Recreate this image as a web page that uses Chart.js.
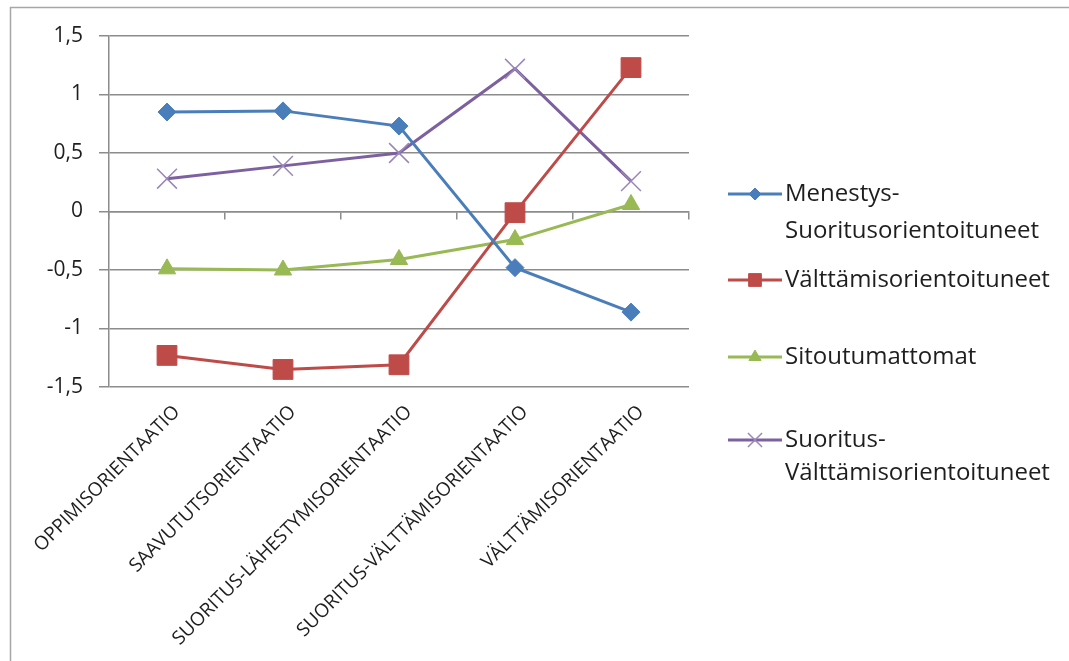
<!DOCTYPE html>
<html>
<head>
<meta charset="utf-8">
<title>Orientaatiot</title>
<script src="https://cdn.jsdelivr.net/npm/chart.js@4.4.1/dist/chart.umd.min.js"></script>
<style>
  html, body { margin: 0; padding: 0; background: #fff; }
  #wrap { width: 1069px; height: 661px; position: relative; }
</style>
</head>
<body>
<div id="wrap"><canvas id="chart"></canvas></div>
<script>
// --- data ---
const categories = [
  "OPPIMISORIENTAATIO",
  "SAAVUTUTSORIENTAATIO",
  "SUORITUS-LÄHESTYMISORIENTAATIO",
  "SUORITUS-VÄLTTÄMISORIENTAATIO",
  "VÄLTTÄMISORIENTAATIO"
];
const seriesNames = [
  "Menestys-Suoritusorientoituneet",
  "Välttämisorientoituneet",
  "Sitoutumattomat",
  "Suoritus-Välttämisorientoituneet"
];
const menestys = [0.85, 0.86, 0.73, -0.48, -0.86];
const valttamis = [-1.23, -1.35, -1.31, -0.01, 1.23];
const sitoutumattomat = [-0.49, -0.50, -0.41, -0.24, 0.06];
const suoritusValttamis = [0.28, 0.39, 0.50, 1.22, 0.26];
const yTicks = [-1.5, -1, -0.5, 0, 0.5, 1, 1.5];

const FONT = "'Open Sans', 'Liberation Sans', sans-serif";
const GRID = "#8c8c8c";
const TEXT = "#1e1e1e";

// --- styles per series ---
const seriesStyle = [
  { color: "#4a7ebb", point: "rectRot", radius: 9, legendRadius: 6 },
  { color: "#be4b48", point: "rect", radius: 14, legendRadius: 9 },
  { color: "#98b954", point: "triangle", radius: 10, legendRadius: 7 },
  { color: "#7d60a0", point: "crossRot", radius: 14, legendRadius: 10 }
];
const seriesValues = [menestys, valttamis, sitoutumattomat, suoritusValttamis];

const datasets = seriesNames.map((name, i) => {
  const s = seriesStyle[i];
  return {
    label: name,
    data: seriesValues[i],
    borderColor: s.color,
    backgroundColor: s.color,
    borderWidth: 3,
    pointStyle: s.point,
    pointRadius: s.radius,
    pointHoverRadius: s.radius,
    pointBorderColor: s.point === "crossRot" ? "#9b86b8" : s.color,
    pointBorderWidth: s.point === "crossRot" ? 1.5 : 1,
    tension: 0
  };
});

// frame lines + legend on the right (multi-line labels)
const sidePlugin = {
  id: "side",
  afterDraw(chart) {
    const ctx = chart.ctx;
    ctx.save();
    // image frame (top and left edge)
    ctx.strokeStyle = "#a6a6a6";
    ctx.lineWidth = 1.5;
    ctx.beginPath();
    ctx.moveTo(10.5, 661);
    ctx.lineTo(10.5, 7.5);
    ctx.lineTo(1069, 7.5);
    ctx.stroke();

    // legend
    const rowsY = [194, 280, 357, 440];
    const lineGap = [37, 0, 0, 33];
    ctx.font = "24px " + FONT;
    ctx.textBaseline = "middle";
    chart.data.datasets.forEach((ds, i) => {
      const s = seriesStyle[i];
      const y = rowsY[i];
      ctx.strokeStyle = s.color;
      ctx.lineWidth = 3;
      ctx.beginPath();
      ctx.moveTo(728, y);
      ctx.lineTo(782, y);
      ctx.stroke();
      ctx.fillStyle = s.color;
      ctx.strokeStyle = s.point === "crossRot" ? "#9b86b8" : s.color;
      ctx.lineWidth = s.point === "crossRot" ? 1.5 : 1;
      Chart.helpers.drawPoint(ctx, { pointStyle: s.point, radius: s.legendRadius, rotation: 0, borderWidth: ctx.lineWidth }, 755, y);
      const dash = ds.label.indexOf("-");
      const lines = dash > 0 ? [ds.label.slice(0, dash + 1), ds.label.slice(dash + 1)] : [ds.label];
      ctx.fillStyle = TEXT;
      lines.forEach((t, k) => ctx.fillText(t, 785, y + k * lineGap[i]));
    });
    ctx.restore();
  }
};

new Chart(document.getElementById("chart"), {
  type: "line",
  data: { labels: categories, datasets: datasets },
  options: {
    responsive: true,
    maintainAspectRatio: false,
    animation: false,
    layout: { padding: { top: 36, right: 380, left: 0, bottom: 0 } },
    plugins: { legend: { display: false }, tooltip: { enabled: false } },
    scales: {
      x: {
        type: "category",
        offset: true,
        grid: { display: false },
        border: { display: false },
        ticks: {
          color: TEXT,
          font: { family: FONT, size: 19 },
          maxRotation: 45,
          minRotation: 45,
          padding: 6,
          labelOffset: 10,
          autoSkip: false
        },
        afterFit(scale) { scale.height = 274; }
      },
      xZero: {
        type: "category",
        position: { y: 0 },
        offset: true,
        grid: { drawOnChartArea: false, offset: true, tickLength: 7, color: GRID, lineWidth: 1.5 },
        border: { display: true, color: GRID, width: 1.5 },
        ticks: { display: false }
      },
      y: {
        min: -1.5,
        max: 1.5,
        afterBuildTicks(scale) { scale.ticks = yTicks.map(v => ({ value: v })); },
        grid: { color: GRID, lineWidth: 1.5, tickLength: 10 },
        border: { display: true, color: GRID, width: 1.5 },
        ticks: {
          color: TEXT,
          padding: 16,
          font: { family: FONT, size: 21 },
          callback: v => String(v).replace(".", ",")
        },
        afterFit(scale) { scale.width = 109; }
      }
    }
  },
  plugins: [sidePlugin]
});
</script>
</body>
</html>
